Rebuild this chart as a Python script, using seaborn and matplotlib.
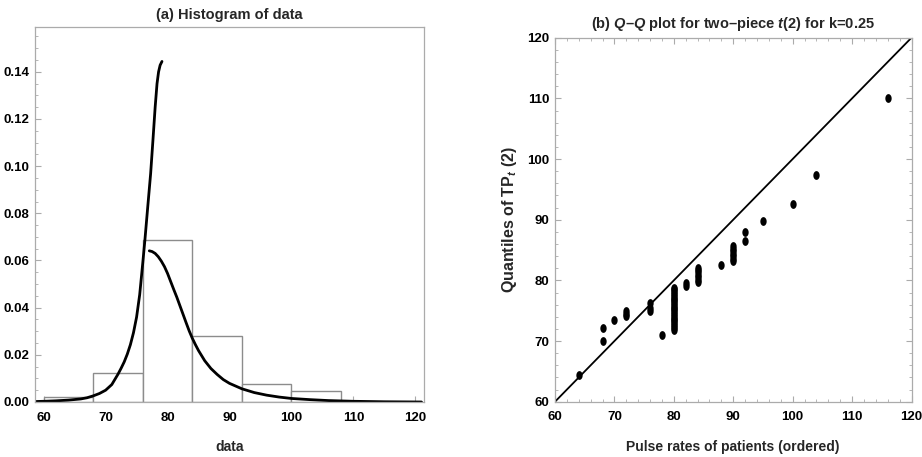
import numpy as np
import pandas as pd
import matplotlib
matplotlib.use("Agg")
import matplotlib.pyplot as plt
from matplotlib.ticker import MultipleLocator
from matplotlib.path import Path
import seaborn as sns

# ---- histogram of pulse-rate data (density per bin) ----
bin_edges = [60, 68, 76, 84, 92, 100, 108]
bin_density = [0.0020, 0.0124, 0.0688, 0.0279, 0.0075, 0.0046]

# ---- fitted two-piece t(2) density, left piece ----
left_x = [58.7, 60, 62, 64, 66, 67, 68, 69, 70, 71, 72, 72.5, 73, 73.5, 74,
          74.5, 75, 75.5, 76, 76.35, 76.8, 77.27, 77.64, 78.0, 78.3, 78.55,
          78.8, 79.1]
left_y = [0.0002, 0.0003, 0.0005, 0.0008, 0.0013, 0.0018, 0.0026, 0.0036,
          0.0050, 0.0074, 0.0118, 0.0143, 0.0170, 0.0203, 0.0243, 0.0294,
          0.0360, 0.0455, 0.0590, 0.0689, 0.0827, 0.0969, 0.1110, 0.1251,
          0.1350, 0.1400, 0.1428, 0.1444]

# ---- fitted two-piece t(2) density, right piece ----
right_x = [77.05, 77.5, 78.0, 78.5, 79.0, 79.5, 80.0, 80.5, 81.0, 81.5, 82.0,
           82.5, 83.0, 83.5, 84.0, 84.5, 85, 86, 87, 88, 89, 90, 92, 94, 96,
           98, 100, 103, 106, 110, 115, 121]
right_y = [0.0641, 0.0638, 0.0630, 0.0616, 0.0597, 0.0574, 0.0545, 0.0511,
           0.0477, 0.0444, 0.0408, 0.0372, 0.0336, 0.0301, 0.0270, 0.0243,
           0.0218, 0.0175, 0.0142, 0.0117, 0.0095, 0.0079, 0.0056, 0.0040,
           0.0029, 0.0021, 0.0015, 0.0010, 0.0006, 0.0003, 0.0001, 0.0000]

# ---- Q-Q plot: ordered pulse rates vs. TP_t(2) quantiles ----
pulse_rates = ([64, 68, 68, 70, 72, 72, 72, 76, 76, 76, 78] + [80] * 24 +
               [82, 82] + [84] * 7 + [88] + [90] * 7 +
               [92, 92, 95, 100, 104, 116])
tp_quantiles = ([64.4, 70.05, 72.2, 73.4, 74.1, 74.5, 75.0, 75.0, 75.5, 76.2,
                 71.0] +
                [71.9, 72.2, 72.5, 72.8, 73.1, 73.4, 73.7, 74.0, 74.3, 74.6,
                 74.9, 75.2, 75.5, 75.8, 76.1, 76.4, 76.7, 77.0, 77.3, 77.6,
                 77.9, 78.2, 78.5, 78.7] +
                [79.1, 79.6] +
                [79.7, 80.1, 80.5, 80.9, 81.3, 81.7, 82.0] +
                [82.6] +
                [83.2, 83.6, 84.0, 84.4, 84.8, 85.2, 85.6] +
                [86.5, 88.0, 89.8, 92.6, 97.3, 110.1])
identity_line = [60, 120]

sns.set_theme(style="white")
font_list = ["Liberation Sans Narrow", "Liberation Sans", "DejaVu Sans"]
plt.rcParams["font.family"] = font_list
plt.rcParams["font.weight"] = "bold"
plt.rcParams["mathtext.fontset"] = "custom"
plt.rcParams["mathtext.it"] = "Liberation Sans:italic:bold"
plt.rcParams["mathtext.rm"] = "Liberation Sans:bold"
plt.rcParams["mathtext.bf"] = "Liberation Sans:bold"

frame_col = "#ababab"
W, H = 922, 457
fig = plt.figure(figsize=(W / 100, H / 100), dpi=100)
ax1 = fig.add_axes([35 / W, 1 - 402 / H, (424 - 35) / W, (402 - 27) / H])
ax2 = fig.add_axes([555 / W, 1 - 401.7 / H, (911.5 - 555) / W, (401.7 - 37.7) / H])

# slightly tall oval dot for the Q-Q points
t = np.linspace(0, 2 * np.pi, 40)
oval = Path(np.column_stack([0.36 * np.cos(t), 0.5 * np.sin(t)]), closed=True)

# ---- left panel ----
centers = [(a + b) / 2 for a, b in zip(bin_edges[:-1], bin_edges[1:])]
hist_df = pd.DataFrame({"x": centers, "w": bin_density})
sns.histplot(data=hist_df, x="x", weights="w", bins=bin_edges, stat="count",
             fill=True, color="white", edgecolor="#8c8c8c", linewidth=1.0,
             alpha=1, ax=ax1)
sns.lineplot(x=left_x, y=left_y, sort=False, estimator=None, color="black",
             linewidth=2.0, ax=ax1)
sns.lineplot(x=right_x, y=right_y, sort=False, estimator=None, color="black",
             linewidth=2.0, ax=ax1)
ax1.set_xlim(58.6, 121.4)
ax1.set_ylim(0, 0.159)
ax1.xaxis.set_major_locator(MultipleLocator(10))
ax1.yaxis.set_major_locator(MultipleLocator(0.02))
ax1.yaxis.set_minor_locator(MultipleLocator(0.005))
ax1.set_yticks(ax1.get_yticks())
ax1.set_yticklabels([f"{v:.2f}" for v in ax1.get_yticks()])
ax1.set_ylim(0, 0.159)
ax1.tick_params(axis="both", which="major", direction="in", length=4,
                width=0.8, color=frame_col, labelsize=9.5, labelcolor="black")
ax1.tick_params(axis="x", which="major", pad=7, bottom=True)
ax1.tick_params(axis="y", which="major", pad=4, left=True)
ax1.tick_params(axis="y", which="minor", direction="in", length=2,
                width=0.6, color=frame_col, left=True)
ax1.set_xlabel("data", fontsize=10, fontweight="bold", labelpad=12)
ax1.set_ylabel("")
ax1.set_title("(a) Histogram of data", fontsize=10.5, fontweight="bold", pad=6)

# ---- right panel ----
sns.lineplot(x=identity_line, y=identity_line, color="black", linewidth=1.3,
             ax=ax2)
sns.scatterplot(x=pulse_rates, y=tp_quantiles, color="black", s=40,
                marker=oval, edgecolor="black", linewidth=0, ax=ax2, zorder=3)
ax2.set_xlim(60, 120)
ax2.set_ylim(60, 120)
for axis in (ax2.xaxis, ax2.yaxis):
    axis.set_major_locator(MultipleLocator(10))
    axis.set_minor_locator(MultipleLocator(2))
ax2.tick_params(axis="both", which="major", direction="in", length=4,
                width=0.8, color=frame_col, labelsize=9.5,
                labelcolor="black", top=True, right=True, bottom=True, left=True)
ax2.tick_params(axis="x", which="major", pad=7)
ax2.tick_params(axis="y", which="major", pad=4)
ax2.tick_params(axis="both", which="minor", direction="in", length=2,
                width=0.6, color=frame_col, top=True, right=True, bottom=True,
                left=True)
ax2.set_xlabel("Pulse rates of patients (ordered)", fontsize=10,
               fontweight="bold", labelpad=12)
ax2.set_ylabel(r"Quantiles of TP$_{t}$ (2)", fontsize=11.5, fontweight="bold",
               labelpad=6)
ax2.set_title(r"(b) $Q$–$Q$ plot for two–piece $t$(2) for k=0.25",
              fontsize=10.5, fontweight="bold", pad=7)

for ax in (ax1, ax2):
    for sp in ax.spines.values():
        sp.set_color(frame_col)
        sp.set_linewidth(0.9)
    for lab in ax.get_xticklabels() + ax.get_yticklabels():
        lab.set_fontweight("bold")

fig.savefig("out.png", dpi=100)
